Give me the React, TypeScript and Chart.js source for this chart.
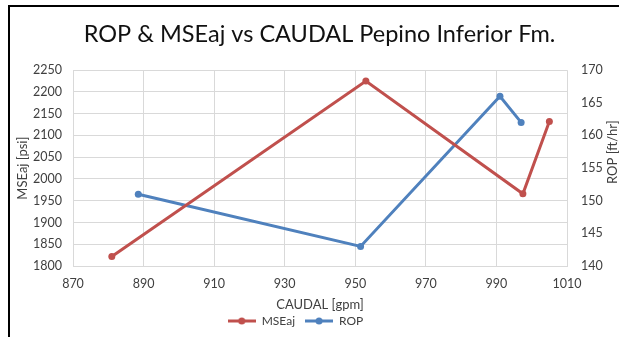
import { useEffect, useRef } from "react";
import { Chart, registerables } from "chart.js";

Chart.register(...registerables);

const chartTitle = "ROP & MSEaj vs CAUDAL Pepino Inferior Fm.";
const xAxisTitle = "CAUDAL [gpm]";
const leftAxisTitle = "MSEaj [psi]";
const rightAxisTitle = "ROP [ft/hr]";

const mseLabel = "MSEaj";
const mseCaudal = [881, 953, 997.5, 1005];
const mseValues = [1822, 2225, 1966, 2132];

const ropLabel = "ROP";
const ropCaudal = [888.5, 951.5, 991, 997];
const ropValues = [151, 143, 166, 162];

const xTicks = [870, 890, 910, 930, 950, 970, 990, 1010];
const leftTicks = [1800, 1850, 1900, 1950, 2000, 2050, 2100, 2150, 2200, 2250];
const rightTicks = [140, 145, 150, 155, 160, 165, 170];

const RED = "#C0504D";
const BLUE = "#4F81BD";
const GRID = "#D9D9D9";
const TEXT = "#404040";
const FONT = "Lato, 'Liberation Sans', sans-serif";

function legendMarker(color: string): HTMLCanvasElement {
  const c = document.createElement("canvas");
  c.width = 28;
  c.height = 8;
  const ctx = c.getContext("2d")!;
  ctx.strokeStyle = color;
  ctx.lineWidth = 3;
  ctx.beginPath();
  ctx.moveTo(0, 4);
  ctx.lineTo(28, 4);
  ctx.stroke();
  ctx.fillStyle = color;
  ctx.beginPath();
  ctx.arc(14, 4, 3.5, 0, Math.PI * 2);
  ctx.fill();
  return c;
}

const plainTick = (v: any) => String(v);

export default function App() {
  const ref = useRef<HTMLCanvasElement | null>(null);

  useEffect(() => {
    if (!ref.current) return;
    const markers: Record<string, HTMLCanvasElement> = {
      [mseLabel]: legendMarker(RED),
      [ropLabel]: legendMarker(BLUE),
    };

    const adjustPlugin = {
      id: "adjustBoxes",
      afterLayout(chart: any) {
        const t = chart.titleBlock;
        if (t) {
          t.left += 10;
          t.right += 10;
        }
        const l = chart.legend;
        if (l) {
          l.left -= 14;
          l.right -= 14;
        }
      },
      afterDraw(chart: any) {
        const s = chart.scales.y1;
        const ctx = chart.ctx as CanvasRenderingContext2D;
        ctx.save();
        ctx.translate(s.right - 6, (s.top + s.bottom) / 2 - 16);
        ctx.rotate(-Math.PI / 2);
        ctx.font = `13px ${FONT}`;
        ctx.fillStyle = TEXT;
        ctx.textAlign = "center";
        ctx.textBaseline = "middle";
        ctx.fillText(rightAxisTitle, 0, 0);
        ctx.restore();
      },
    };

    const chart = new Chart(ref.current, {
      type: "line",
      data: {
        datasets: [
          {
            label: mseLabel,
            data: mseCaudal.map((x, i) => ({ x, y: mseValues[i] })),
            borderColor: RED,
            backgroundColor: RED,
            borderWidth: 3,
            pointRadius: 3.5,
            pointBorderWidth: 0,
            pointBackgroundColor: RED,
            yAxisID: "y",
            tension: 0,
          },
          {
            label: ropLabel,
            data: ropCaudal.map((x, i) => ({ x, y: ropValues[i] })),
            borderColor: BLUE,
            backgroundColor: BLUE,
            borderWidth: 3,
            pointRadius: 3.5,
            pointBorderWidth: 0,
            pointBackgroundColor: BLUE,
            yAxisID: "y1",
            tension: 0,
          },
        ],
      },
      options: {
        responsive: false,
        animation: false,
        devicePixelRatio: 1,
        layout: { padding: 0 },
        plugins: {
          tooltip: { enabled: false },
          title: {
            display: true,
            text: chartTitle,
            color: "#111",
            font: { family: FONT, size: 23.5, weight: "normal" },
            padding: { top: 20, bottom: 22 },
          },
          legend: {
            display: true,
            position: "bottom",
            labels: {
              color: TEXT,
              font: { family: FONT, size: 12 },
              usePointStyle: true,
              pointStyleWidth: 28,
              padding: 10,
              generateLabels(chart: any) {
                const items = Chart.defaults.plugins.legend.labels.generateLabels(chart);
                return items.map((it: any) => ({ ...it, pointStyle: markers[it.text] }));
              },
            },
          },
        },
        scales: {
          x: {
            type: "linear",
            min: xTicks[0],
            max: xTicks[xTicks.length - 1],
            afterBuildTicks(scale: any) {
              scale.ticks = xTicks.map((v) => ({ value: v }));
            },
            afterFit(scale: any) {
              scale.height = 39;
            },
            grid: { color: GRID, lineWidth: 1, drawTicks: false },
            border: { display: true, color: GRID },
            ticks: { color: TEXT, font: { family: FONT, size: 12.5 }, padding: 10, maxRotation: 0, callback: plainTick },
            title: {
              display: true,
              text: xAxisTitle,
              color: TEXT,
              font: { family: FONT, size: 13 },
              padding: { top: 0, bottom: -8 },
            },
          },
          y: {
            type: "linear",
            position: "left",
            min: leftTicks[0],
            max: leftTicks[leftTicks.length - 1],
            afterBuildTicks(scale: any) {
              scale.ticks = leftTicks.map((v) => ({ value: v }));
            },
            afterFit(scale: any) {
              scale.width = 73;
            },
            grid: { color: GRID, lineWidth: 1, drawTicks: false },
            border: { display: true, color: GRID },
            ticks: { color: TEXT, font: { family: FONT, size: 12.5 }, padding: 11, callback: plainTick },
            title: {
              display: true,
              text: leftAxisTitle,
              color: TEXT,
              font: { family: FONT, size: 13 },
              padding: { top: 15, bottom: 0 },
            },
          },
          y1: {
            type: "linear",
            position: "right",
            min: rightTicks[0],
            max: rightTicks[rightTicks.length - 1],
            afterBuildTicks(scale: any) {
              scale.ticks = rightTicks.map((v) => ({ value: v }));
            },
            afterFit(scale: any) {
              scale.width = 52;
            },
            grid: { display: false, drawTicks: false },
            border: { display: false },
            ticks: { color: TEXT, font: { family: FONT, size: 12.5 }, padding: 14, callback: plainTick },
          },
        },
      },
      plugins: [adjustPlugin],
    } as any);

    return () => chart.destroy();
  }, []);

  return (
    <div style={{ position: "fixed", left: 0, top: 0, width: 619, height: 337, background: "#fff", overflow: "hidden" }}>
      <canvas ref={ref} width={619} height={337} style={{ display: "block" }} />
      <div
        style={{
          position: "absolute",
          left: 8,
          top: 5,
          width: 700,
          height: 400,
          borderLeft: "2px solid #000",
          borderTop: "2px solid #000",
          pointerEvents: "none",
        }}
      />
    </div>
  );
}
